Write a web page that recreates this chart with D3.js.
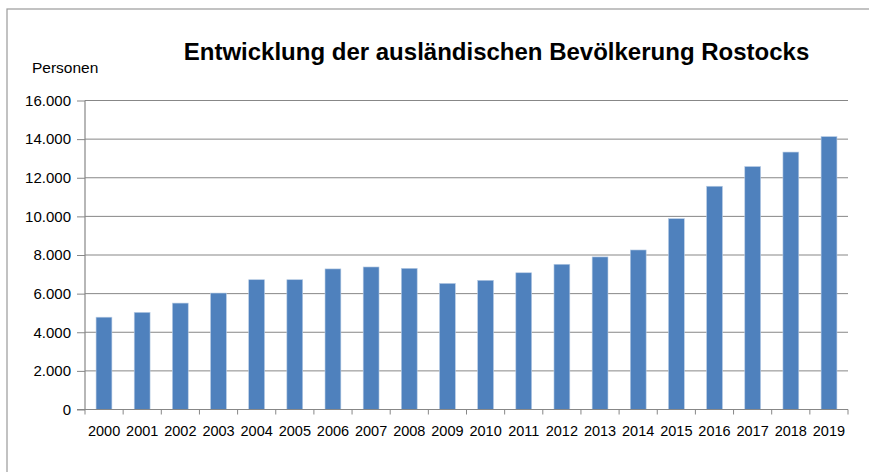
<!DOCTYPE html>
<html>
<head>
<meta charset="utf-8">
<script src="https://cdn.jsdelivr.net/npm/d3@7/dist/d3.min.js"></script>
<style>
  html, body { margin: 0; padding: 0; background: #fff; }
  svg { display: block; font-family: Arial, "Liberation Sans", sans-serif; }
</style>
</head>
<body>
<svg id="chart" width="869" height="472"></svg>
<script>
const years = ["2000","2001","2002","2003","2004","2005","2006","2007","2008","2009",
               "2010","2011","2012","2013","2014","2015","2016","2017","2018","2019"];
const persons = [4780, 5030, 5510, 6030, 6720, 6720, 7280, 7380, 7310, 6530,
                 6690, 7080, 7520, 7900, 8260, 9880, 11560, 12580, 13330, 14130];
const yTicks = [0, 2000, 4000, 6000, 8000, 10000, 12000, 14000, 16000];
const titleText = "Entwicklung der ausländischen Bevölkerung Rostocks";
const yAxisLabel = "Personen";

const svg = d3.select("#chart");
const pLeft = 85, pRight = 848, pTop = 100.5, pBottom = 409.5;

// outer border (extends beyond the visible area on right and bottom)
svg.append("rect")
  .attr("x", 7).attr("y", 9).attr("width", 880).attr("height", 480)
  .attr("fill", "none").attr("stroke", "#9a9a9a").attr("stroke-width", 1.2);

const x = d3.scaleBand().domain(years).range([pLeft, pRight]).paddingInner(0.585).paddingOuter(0.29);
const xb = d3.scaleBand().domain(years).range([pLeft, pRight]);
const y = d3.scaleLinear().domain([0, 16000]).range([pBottom, pTop]);

const fmt = d => d3.format(",")(d).replace(/,/g, ".");

// gridlines
svg.append("g").selectAll("line").data(yTicks.filter(d => d > 0)).join("line")
  .attr("x1", pLeft).attr("x2", pRight)
  .attr("y1", d => y(d)).attr("y2", d => y(d))
  .attr("stroke", "#878787").attr("stroke-width", 1);

// bars
svg.append("g").selectAll("rect").data(persons).join("rect")
  .attr("x", (d, i) => x(years[i]))
  .attr("width", x.bandwidth())
  .attr("y", d => y(d))
  .attr("height", d => pBottom - y(d))
  .attr("fill", "#4f81bd")
  .attr("stroke", "#b8cce4").attr("stroke-width", 0.6);

// y axis
const yAxis = d3.axisLeft(y).tickValues(yTicks).tickFormat(fmt).tickSize(8).tickPadding(6);
const gy = svg.append("g").attr("transform", `translate(${pLeft},0)`).call(yAxis);
gy.select(".domain").attr("stroke", "#878787").attr("stroke-width", 1.2).attr("d", `M0,${pTop}V${pBottom}`);
gy.selectAll(".tick line").attr("stroke", "#878787");
gy.selectAll(".tick text").attr("font-size", 15).attr("fill", "#000").attr("font-family", "Arial, 'Liberation Sans', sans-serif");

// x axis: ticks at band boundaries
const gx = svg.append("g").attr("transform", `translate(0,${pBottom})`);
gx.append("line").attr("x1", pLeft - 8).attr("x2", pRight).attr("stroke", "#878787").attr("stroke-width", 1.2);
const bounds = years.map(d => xb(d)).concat([pRight]);
gx.selectAll("line.tk").data(bounds).join("line").attr("class", "tk")
  .attr("x1", d => d).attr("x2", d => d).attr("y1", 0).attr("y2", 5)
  .attr("stroke", "#878787");
gx.selectAll("text").data(years).join("text")
  .attr("x", d => xb(d) + xb.bandwidth() / 2)
  .attr("y", 26)
  .attr("text-anchor", "middle")
  .attr("font-size", 14.5)
  .attr("fill", "#000")
  .text(d => d);

// title
svg.append("text").attr("x", 496.5).attr("y", 60).attr("text-anchor", "middle")
  .attr("font-size", 24).attr("font-weight", "bold").attr("fill", "#000")
  .text(titleText);

// y label
svg.append("text").attr("x", 32).attr("y", 72.5)
  .attr("font-size", 15.5).attr("fill", "#000").text(yAxisLabel);
</script>
</body>
</html>
